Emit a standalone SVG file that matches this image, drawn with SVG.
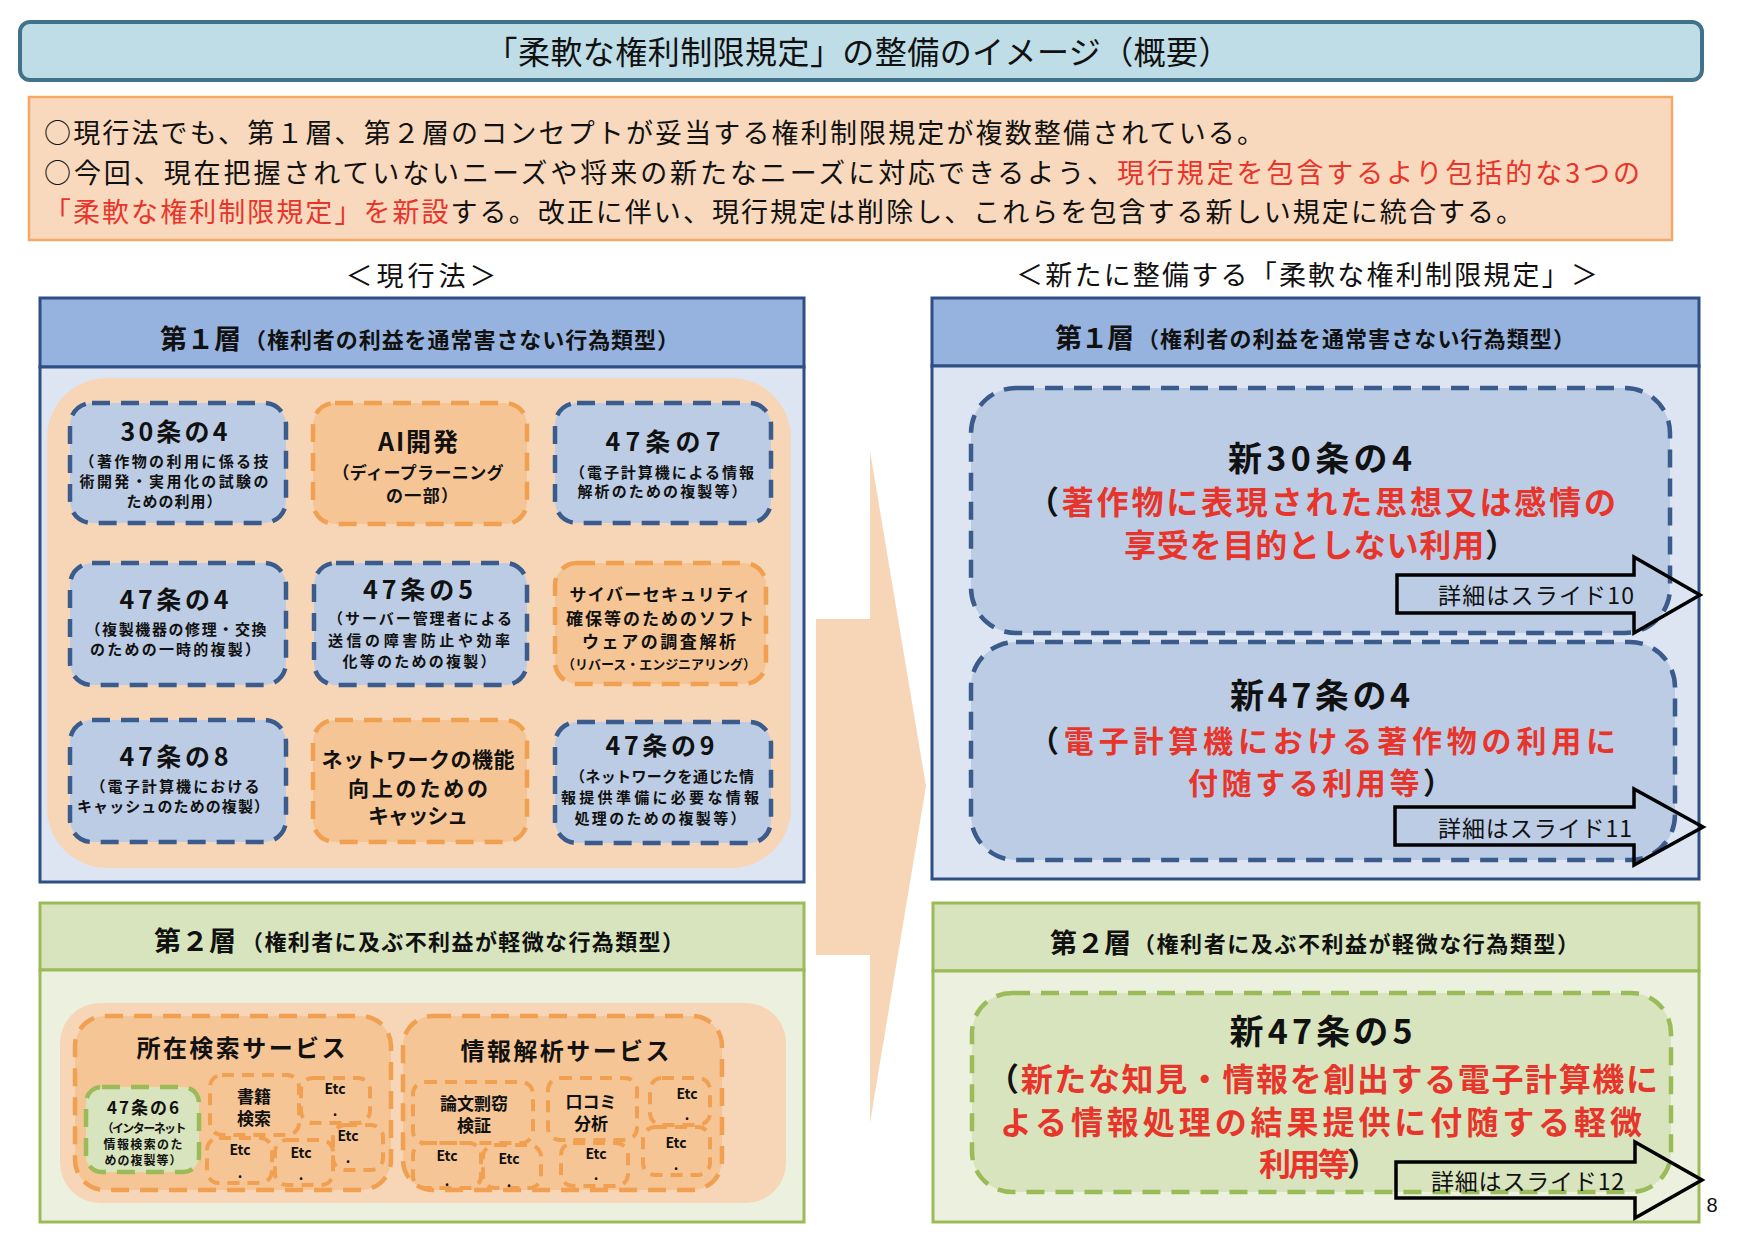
<svg xmlns="http://www.w3.org/2000/svg" width="1748" height="1252" viewBox="0 0 1748 1252">
<style>
text { font-family: 'Noto Sans CJK JP','Noto Sans CJK SC',sans-serif; dominant-baseline: central; fill: #111; }
.m { text-anchor: middle; }
.b { font-weight: bold; }
.red { fill: #E8352B; }
.hb { fill: #95B3DE; stroke: #2E4E84; stroke-width: 3; }
.bb { fill: #DCE5F1; stroke: #2E4E84; stroke-width: 3; }
.hg { fill: #D7E4BD; stroke: #9BBB59; stroke-width: 3; }
.bg { fill: #EBF1DE; stroke: #9BBB59; stroke-width: 3; }
.bd { fill: #BBCCE4; stroke: #3B5B8C; stroke-width: 4.5; stroke-dasharray: 18 11; }
.od { fill: #F5C596; stroke: #F0A050; stroke-width: 4.5; stroke-dasharray: 18 11; }
.gd { fill: #D7E4BD; stroke: #9BBB59; stroke-width: 4.5; stroke-dasharray: 18 11; }
.os { fill: none; stroke: #F0A050; stroke-width: 4; stroke-dasharray: 12 8; }
.peach { fill: #F7D6B8; }
.darr { fill: none; stroke: #000; stroke-width: 3.5; stroke-linejoin: miter; }
.etc { font-size: 14px; font-weight: bold; text-anchor: middle; }
</style>
<rect width="1748" height="1252" fill="#fff"/>

<g id="title">
<rect x="20" y="22" width="1682" height="58" rx="10" fill="#BEDDE7" stroke="#41728A" stroke-width="4"/>
<text x="858" y="50" class="m" font-size="32" textLength="745">「柔軟な権利制限規定」の整備のイメージ（概要）</text>
</g>

<g id="summary">
<rect x="29" y="97" width="1643" height="143" fill="#F8D9BD" stroke="#F3A866" stroke-width="2.5"/>
<text x="44" y="131" font-size="27" textLength="1220">○現行法でも、第１層、第２層のコンセプトが妥当する権利制限規定が複数整備されている。</text>
<text x="44" y="171" font-size="27" textLength="1596">○今回、現在把握されていないニーズや将来の新たなニーズに対応できるよう、<tspan class="red">現行規定を包含するより包括的な3つの</tspan></text>
<text x="44" y="210" font-size="27" textLength="1479"><tspan class="red">「柔軟な権利制限規定」を新設</tspan>する。改正に伴い、現行規定は削除し、これらを包含する新しい規定に統合する。</text>
</g>

<g id="caption-current">
<text x="421" y="274" class="m" font-size="27" textLength="151">＜現行法＞</text>
</g>
<g id="caption-new">
<text x="1307" y="273" class="m" font-size="27" textLength="582">＜新たに整備する「柔軟な権利制限規定」＞</text>
</g>

<g id="connectors">
<polygon class="peach" points="816,619 870,619 870,451 926,786 870,1123 870,955 816,955"/>
</g>

<g id="left-layer1">
<rect class="hb" x="40" y="298" width="764" height="69"/>
<rect class="bb" x="40" y="367" width="764" height="515"/>
<text class="b"><tspan x="160" y="337" font-size="27" textLength="81">第１層</tspan><tspan x="244" y="338" font-size="22" textLength="435">（権利者の利益を通常害さない行為類型）</tspan></text>
<rect class="peach" x="47" y="378" width="744" height="490" rx="60"/>
</g>

<g id="box-30-4">
<rect class="bd" x="70" y="403" width="216" height="120" rx="22"/>
<text class="m b"><tspan x="174" y="430" font-size="25" textLength="107">30条の4</tspan><tspan x="174" y="460" font-size="15" textLength="189">（著作物の利用に係る技</tspan><tspan x="174" y="480" font-size="15" textLength="189">術開発・実用化の試験の</tspan><tspan x="174" y="500" font-size="15" textLength="95">ための利用）</tspan></text>
</g>
<g id="box-ai">
<rect class="od" x="313" y="403" width="214" height="121" rx="22"/>
<text class="m b"><tspan x="418" y="440" font-size="25" textLength="80">AI開発</tspan><tspan x="418" y="471" font-size="17" textLength="171">（ディープラーニング</tspan><tspan x="422" y="494" font-size="17" textLength="72">の一部）</tspan></text>
</g>
<g id="box-47-7">
<rect class="bd" x="555" y="403" width="216" height="120" rx="22"/>
<text class="m b"><tspan x="663" y="440" font-size="25" textLength="115">47条の7</tspan><tspan x="662" y="471" font-size="15" textLength="184">（電子計算機による情報</tspan><tspan x="662" y="490" font-size="15" textLength="169">解析のための複製等）</tspan></text>
</g>
<g id="box-47-4">
<rect class="bd" x="70" y="563" width="216" height="122" rx="22"/>
<text class="m b"><tspan x="174" y="598" font-size="25" textLength="109">47条の4</tspan><tspan x="176" y="628" font-size="15" textLength="181">（複製機器の修理・交換</tspan><tspan x="175" y="648" font-size="15" textLength="170">のための一時的複製）</tspan></text>
</g>
<g id="box-47-5">
<rect class="bd" x="314" y="563" width="213" height="122" rx="22"/>
<text class="m b"><tspan x="418" y="588" font-size="25" textLength="110">47条の5</tspan><tspan x="420" y="617" font-size="15" textLength="184">（サーバー管理者による</tspan><tspan x="419" y="639" font-size="15" textLength="182">送信の障害防止や効率</tspan><tspan x="419" y="660" font-size="15" textLength="153">化等のための複製）</tspan></text>
</g>
<g id="box-cyber">
<rect class="od" x="555" y="563" width="211" height="121" rx="22"/>
<text class="m b"><tspan x="660" y="593" font-size="17" textLength="181">サイバーセキュリティ</tspan><tspan x="660" y="617" font-size="17" textLength="188">確保等のためのソフト</tspan><tspan x="659" y="640" font-size="17" textLength="154">ウェアの調査解析</tspan><tspan x="659" y="663" font-size="13" textLength="194">（リバース・エンジニアリング）</tspan></text>
</g>
<g id="box-47-8">
<rect class="bd" x="70" y="720" width="216" height="122" rx="22"/>
<text class="m b"><tspan x="174" y="755" font-size="25" textLength="109">47条の8</tspan><tspan x="175" y="785" font-size="15" textLength="169">（電子計算機における</tspan><tspan x="173" y="805" font-size="15" textLength="192">キャッシュのための複製）</tspan></text>
</g>
<g id="box-network">
<rect class="od" x="313" y="720" width="214" height="122" rx="22"/>
<text class="m b"><tspan x="418" y="758" font-size="21" textLength="193">ネットワークの機能</tspan><tspan x="418" y="787" font-size="21" textLength="140">向上のための</tspan><tspan x="418" y="814" font-size="21" textLength="100">キャッシュ</tspan></text>
</g>
<g id="box-47-9">
<rect class="bd" x="555" y="722" width="216" height="121" rx="22"/>
<text class="m b"><tspan x="660" y="744" font-size="25" textLength="109">47条の9</tspan><tspan x="662" y="775" font-size="15" textLength="184">（ネットワークを通じた情</tspan><tspan x="660" y="796" font-size="15" textLength="198">報提供準備に必要な情報</tspan><tspan x="660" y="817" font-size="15" textLength="171">処理のための複製等）</tspan></text>
</g>

<g id="left-layer2">
<rect class="hg" x="40" y="903" width="764" height="67"/>
<rect class="bg" x="40" y="970" width="764" height="252"/>
<text class="b"><tspan x="154" y="939" font-size="27" textLength="82">第２層</tspan><tspan x="241" y="940" font-size="22" textLength="443">（権利者に及ぶ不利益が軽微な行為類型）</tspan></text>
<rect class="peach" x="60" y="1003" width="726" height="200" rx="40"/>
</g>

<g id="box-location-search">
<rect class="od" x="75" y="1016" width="316" height="174" rx="30"/>
<text x="241" y="1046" class="m b" font-size="24" textLength="209">所在検索サービス</text>
<rect class="gd" x="86" y="1087" width="113" height="85" rx="16" stroke-width="4" stroke-dasharray="12 8"/>
<text class="m b"><tspan x="143" y="1106" font-size="17" textLength="72">47条の6</tspan><tspan x="144" y="1127" font-size="12" textLength="85">（インターネット</tspan><tspan x="143" y="1143" font-size="12" textLength="79">情報検索のた</tspan><tspan x="143" y="1159" font-size="12" textLength="77">めの複製等）</tspan></text>
<rect class="os" x="210" y="1075" width="89" height="60" rx="12"/>
<text class="m b" font-size="17"><tspan x="254" y="1095">書籍</tspan><tspan x="254" y="1117">検索</tspan></text>
<rect class="os" x="301" y="1078" width="69" height="45" rx="12"/>
<text class="etc"><tspan x="335" y="1088">Etc</tspan><tspan x="335" y="1110">.</tspan></text>
<rect class="os" x="333" y="1125" width="50" height="45" rx="12"/>
<text class="etc"><tspan x="348" y="1135">Etc</tspan><tspan x="348" y="1157">.</tspan></text>
<rect class="os" x="207" y="1138" width="65" height="45" rx="12"/>
<text class="etc"><tspan x="240" y="1149">Etc</tspan><tspan x="240" y="1172">.</tspan></text>
<rect class="os" x="275" y="1140" width="58" height="45" rx="12"/>
<text class="etc"><tspan x="301" y="1152">Etc</tspan><tspan x="301" y="1174">.</tspan></text>
</g>

<g id="box-info-analysis">
<rect class="od" x="403" y="1016" width="319" height="174" rx="30"/>
<text x="565" y="1049" class="m b" font-size="24" textLength="209">情報解析サービス</text>
<rect class="os" x="413" y="1082" width="120" height="61" rx="12"/>
<text class="m b" font-size="17"><tspan x="474" y="1102">論文剽窃</tspan><tspan x="474" y="1124">検証</tspan></text>
<rect class="os" x="548" y="1078" width="89" height="62" rx="12"/>
<text class="m b" font-size="17"><tspan x="591" y="1100">口コミ</tspan><tspan x="591" y="1122">分析</tspan></text>
<rect class="os" x="650" y="1078" width="60" height="47" rx="12"/>
<text class="etc"><tspan x="687" y="1093">Etc</tspan><tspan x="687" y="1114">.</tspan></text>
<rect class="os" x="643" y="1127" width="67" height="48" rx="12"/>
<text class="etc"><tspan x="676" y="1142">Etc</tspan><tspan x="676" y="1164">.</tspan></text>
<rect class="os" x="413" y="1143" width="68" height="45" rx="12"/>
<text class="etc"><tspan x="447" y="1155">Etc</tspan><tspan x="447" y="1180">.</tspan></text>
<rect class="os" x="483" y="1145" width="58" height="43" rx="12"/>
<text class="etc"><tspan x="509" y="1158">Etc</tspan><tspan x="509" y="1181">.</tspan></text>
<rect class="os" x="561" y="1143" width="67" height="43" rx="12"/>
<text class="etc"><tspan x="596" y="1153">Etc</tspan><tspan x="596" y="1174">.</tspan></text>
</g>

<g id="right-layer1">
<rect class="hb" x="932" y="298" width="767" height="68"/>
<rect class="bb" x="932" y="366" width="767" height="513"/>
<text class="b"><tspan x="1055" y="336" font-size="27" textLength="79">第１層</tspan><tspan x="1137" y="337" font-size="22" textLength="438">（権利者の利益を通常害さない行為類型）</tspan></text>
</g>

<g id="new-30-4">
<rect class="bd" x="971" y="388" width="699" height="245" rx="45" stroke-width="5"/>
<text class="b" font-size="32"><tspan x="1320" y="456" class="m" font-size="34" textLength="184">新30条の4</tspan><tspan x="1027" y="500" textLength="589">（<tspan class="red">著作物に表現された思想又は感情の</tspan></tspan><tspan x="1124" y="543" textLength="393"><tspan class="red">享受を目的としない利用</tspan>）</tspan></text>
<path class="darr" d="M1397,575 H1634 V557 L1700,595 L1634,633 V613 H1397 Z"/>
<text x="1438" y="594" font-size="23" textLength="196">詳細はスライド10</text>
</g>

<g id="new-47-4">
<rect class="bd" x="971" y="642" width="704" height="218" rx="45" stroke-width="5"/>
<text class="b" font-size="30"><tspan x="1320" y="693" class="m" font-size="34" textLength="180">新47条の4</tspan><tspan x="1029" y="739" textLength="587">（<tspan class="red">電子計算機における著作物の利用に</tspan></tspan><tspan x="1188" y="781" textLength="265"><tspan class="red">付随する利用等</tspan>）</tspan></text>
<path class="darr" d="M1395,807 H1634 V789 L1703,827 L1634,865 V845 H1395 Z"/>
<text x="1438" y="827" font-size="23" textLength="194">詳細はスライド11</text>
</g>

<g id="right-layer2">
<rect class="hg" x="933" y="903" width="766" height="68"/>
<rect class="bg" x="933" y="971" width="766" height="251"/>
<text class="b"><tspan x="1050" y="941" font-size="27" textLength="81">第２層</tspan><tspan x="1133" y="942" font-size="22" textLength="446">（権利者に及ぶ不利益が軽微な行為類型）</tspan></text>
</g>

<g id="new-47-5">
<rect class="gd" x="972" y="993" width="699" height="199" rx="40" stroke-width="5"/>
<text class="b" font-size="32"><tspan x="1321" y="1029" class="m" font-size="34" textLength="183">新47条の5</tspan><tspan x="987" y="1077" textLength="671">（<tspan class="red">新たな知見・情報を創出する電子計算機に</tspan></tspan><tspan x="1000" y="1120" class="red" textLength="642">よる情報処理の結果提供に付随する軽微</tspan><tspan x="1259" y="1162" textLength="120"><tspan class="red">利用等</tspan>）</tspan></text>
<path class="darr" d="M1396,1162 H1635 V1142 L1702,1180 L1635,1218 V1198 H1396 Z"/>
<text x="1431" y="1180" font-size="23" textLength="193">詳細はスライド12</text>
</g>

<g id="page-number">
<text x="1712" y="1205" class="m" font-size="20" style="font-family:'Liberation Sans',sans-serif">8</text>
</g>
</svg>
